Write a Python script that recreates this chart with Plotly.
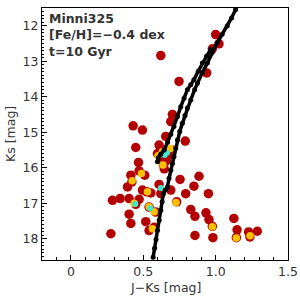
import plotly.graph_objects as go

# Observed stars (red)
red_jk = [0.621, 1.000, 1.023, 0.977, 0.938, 0.747, 0.430, 0.494, 0.448, 0.701,
          0.690, 0.655, 0.790, 0.609, 0.598, 0.640, 0.701, 0.680, 0.640, 0.645,
          0.620, 0.660, 0.467, 0.471, 0.510, 0.414, 0.421, 0.391, 0.609, 0.621,
          0.494, 0.552, 0.524, 0.690, 0.754, 0.885, 0.850, 0.793, 0.950, 0.287,
          0.340, 0.402, 0.471, 0.448, 0.540, 0.586, 0.402, 0.414, 0.517, 0.540,
          0.575, 0.731, 0.828, 0.857, 0.933, 0.954, 0.977, 0.981, 0.857, 1.126,
          1.148, 1.143, 1.228, 1.237, 1.288, 0.276]
red_ks = [12.84, 12.25, 12.51, 12.65, 13.33, 13.57, 14.82, 14.94, 15.43, 14.50,
          14.70, 15.12, 15.25, 15.36, 15.60, 15.50, 15.50, 15.65, 15.93, 16.03,
          15.70, 15.80, 15.85, 16.09, 16.21, 16.21, 16.40, 16.54, 16.47, 16.73,
          16.63, 16.71, 16.68, 16.63, 16.33, 16.24, 16.52, 16.73, 16.73, 16.92,
          16.87, 16.87, 16.89, 17.03, 17.11, 17.25, 17.31, 17.57, 17.52, 17.77,
          17.68, 16.96, 17.18, 17.37, 17.27, 17.46, 17.65, 17.97, 17.91, 17.43,
          17.75, 17.97, 17.81, 17.95, 17.79, 17.86]

# Overlaid yellow markers
yel_jk = [0.632, 0.688, 0.636, 0.602, 0.487, 0.423, 0.529, 0.437, 0.540, 0.575,
          0.726, 0.977, 1.143, 1.238, 0.563]
yel_ks = [15.55, 15.46, 15.92, 15.66, 16.16, 16.37, 16.68, 17.00, 17.10, 17.24,
          16.98, 17.66, 17.98, 17.92, 17.72]

# Overlaid cyan markers
cy_jk = [0.664, 0.648, 0.621, 0.445, 0.548]
cy_ks = [15.58, 15.64, 16.57, 17.02, 17.14]

# Isochrone: RGB branch
rgb_jk = [0.568, 0.578, 0.588, 0.598, 0.610, 0.621, 0.630, 0.639, 0.652, 0.667,
          0.678, 0.690, 0.701, 0.712, 0.724, 0.736, 0.752, 0.770, 0.788, 0.805,
          0.828, 0.855, 0.874, 0.908, 0.943, 0.975, 1.010, 1.045, 1.080, 1.110,
          1.138]
rgb_ks = [18.52, 18.27, 18.02, 17.77, 17.48, 17.20, 16.96, 16.73, 16.63, 16.54,
          16.30, 16.07, 15.88, 15.69, 15.45, 15.22, 14.98, 14.75, 14.53, 14.32,
          14.09, 13.80, 13.62, 13.32, 13.05, 12.76, 12.48, 12.24, 12.01, 11.78,
          11.54]

# Isochrone: AGB branch
agb_jk = [0.598, 0.604, 0.620, 0.644, 0.668, 0.690, 0.712, 0.736, 0.759, 0.782,
          0.805, 0.828, 0.850, 0.880, 0.908, 0.937, 0.966]
agb_ks = [15.83, 15.72, 15.62, 15.50, 15.28, 15.06, 14.84, 14.56, 14.28, 14.04,
          13.80, 13.66, 13.52, 13.28, 13.05, 12.86, 12.67]

x_ticks = [0, 0.5, 1.0, 1.5]
x_ticktext = ["0", "0.5", "1.0", "1.5"]
y_ticks = [12, 13, 14, 15, 16, 17, 18]

fig = go.Figure()
fig.add_trace(go.Scatter(x=red_jk, y=red_ks, mode="markers",
                         marker=dict(color="#b30000", size=9.5, line=dict(width=0))))
fig.add_trace(go.Scatter(x=yel_jk, y=yel_ks, mode="markers",
                         marker=dict(color="#ffc000", size=7.5, line=dict(width=0))))
fig.add_trace(go.Scatter(x=cy_jk, y=cy_ks, mode="markers",
                         marker=dict(color="#40e8d0", size=6, line=dict(width=0))))
fig.add_trace(go.Scatter(x=rgb_jk, y=rgb_ks, mode="lines+markers",
                         line=dict(color="black", width=3.5),
                         marker=dict(color="black", size=5)))
fig.add_trace(go.Scatter(x=agb_jk, y=agb_ks, mode="lines+markers",
                         line=dict(color="black", width=3.5),
                         marker=dict(color="black", size=5)))

font_color = "#333333"
fnt = dict(family="DejaVu Sans", size=12.5, color=font_color)
fig.add_annotation(xref="paper", yref="paper", x=0.02, y=0.995,
                   xanchor="left", yanchor="top", align="left", showarrow=False,
                   text="<b>Minni325</b><br><b>[Fe/H]=−0.4 dex</b><br><b>t=10 Gyr</b>",
                   font=dict(family="DejaVu Sans", size=12.5, color=font_color))
# axis titles
fig.add_annotation(xref="paper", yref="paper", x=0.5, y=-0.111,
                   xanchor="center", yanchor="middle", showarrow=False,
                   text="J−Ks [mag]", font=fnt)
fig.add_annotation(xref="paper", yref="paper", x=-0.13, y=0.5,
                   xanchor="center", yanchor="middle", showarrow=False,
                   textangle=-90, text="Ks [mag]", font=fnt)

axis_common = dict(showgrid=False, zeroline=False, showline=True, linecolor="black",
                   linewidth=1, mirror=True, ticks="inside", tickcolor="black",
                   ticklen=5, tickwidth=1, automargin=False, tickfont=fnt)

fig.update_layout(
    width=300, height=300,
    margin=dict(l=42, r=12, t=8, b=40),
    paper_bgcolor="white", plot_bgcolor="white",
    showlegend=False,
    xaxis=dict(range=[-0.2, 1.5], tickvals=x_ticks, ticktext=x_ticktext,
               minor=dict(dtick=0.1, ticks="inside", ticklen=3, tickcolor="black"),
               **axis_common),
    yaxis=dict(range=[18.6, 11.5], tickvals=y_ticks,
               minor=dict(dtick=0.1, ticks="inside", ticklen=2, tickcolor="black"),
               **axis_common),
)

fig.write_html("out.html", config={"displayModeBar": False},
               post_script="document.body.style.margin='0';document.body.style.overflow='hidden';")
